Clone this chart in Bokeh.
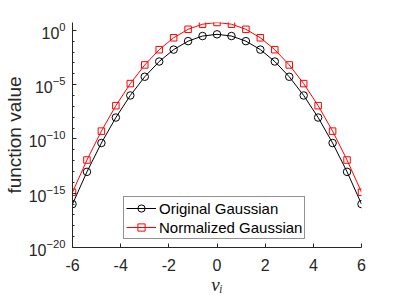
from bokeh.plotting import figure
from bokeh.models import FixedTicker, Legend, LegendItem, Range1d, CustomJSTickFormatter, LogTickFormatter
from bokeh.embed import file_html
from bokeh.resources import INLINE

# ---- data ----
x_vals = [-6.0, -5.4, -4.8, -4.2, -3.6, -3.0, -2.4, -1.8, -1.2, -0.6, 0.0,
          0.6, 1.2, 1.8, 2.4, 3.0, 3.6, 4.2, 4.8, 5.4, 6.0]
original = [9.9e-17, 9.3e-14, 4.2e-11, 9.3e-9, 1.0e-6, 5.3e-5, 1.34e-3, 1.67e-2, 0.101, 0.298, 0.427,
            0.298, 0.101, 1.67e-2, 1.34e-3, 5.3e-5, 1.0e-6, 9.3e-9, 4.2e-11, 9.3e-14, 9.9e-17]
normalized = [1.22e-15, 1.14e-12, 5.2e-10, 1.15e-7, 1.24e-5, 6.5e-4, 1.65e-2, 0.206, 1.24, 3.66, 5.25,
              3.66, 1.24, 0.206, 1.65e-2, 6.5e-4, 1.24e-5, 1.15e-7, 5.2e-10, 1.14e-12, 1.22e-15]
x_ticks = [-6, -4, -2, 0, 2, 4, 6]
y_exps = [-20, -15, -10, -5, 0]
series_names = ["Original Gaussian", "Normalized Gaussian"]

AX = "#262626"
FONT = "Liberation Sans"

p = figure(width=399, height=299, output_backend="svg", toolbar_location=None,
           y_axis_type="log", x_range=Range1d(-6, 6), y_range=Range1d(1e-20, max(normalized)),
           min_border_left=71, min_border_right=38, min_border_top=22, min_border_bottom=52)
p.outline_line_color = None
p.grid.visible = False
p.background_fill_color = "white"
p.border_fill_color = "white"

l1 = p.line(x_vals, original, line_color="black", line_width=1)
m1 = p.scatter(x_vals, original, marker="circle", size=7.5, line_color="black", fill_alpha=0, line_width=1)
l2 = p.line(x_vals, normalized, line_color="red", line_width=1)
m2 = p.scatter(x_vals, normalized, marker="square", size=6.5, line_color="red", fill_alpha=0, line_width=1)

# x axis
xa = p.xaxis[0]
xa.ticker = FixedTicker(ticks=x_ticks, minor_ticks=[])
xa.formatter = CustomJSTickFormatter(code="return tick.toString();")
xa.axis_label = "v\u1d62"
xa.axis_label_text_font = "Liberation Serif"
xa.axis_label_text_font_style = "italic"
xa.axis_label_text_font_size = "19px"
xa.axis_label_text_color = AX
xa.axis_label_standoff = 0
xa.major_label_standoff = 11

# y axis
ya = p.yaxis[0]
ya.ticker = FixedTicker(ticks=[10.0 ** e for e in y_exps],
                        minor_ticks=[10.0 ** e for e in range(-20, 1)])
ya.formatter = LogTickFormatter()
ya.axis_label = "function value"
ya.axis_label_text_font_style = "normal"
ya.axis_label_text_font_size = "19px"
ya.axis_label_text_font = FONT
ya.axis_label_text_color = AX
ya.axis_label_standoff = 1
ya.major_label_standoff = 7

for ax in (xa, ya):
    ax.axis_line_color = AX
    ax.major_tick_line_color = AX
    ax.minor_tick_line_color = AX
    ax.major_tick_in = 4
    ax.major_tick_out = 0
    ax.minor_tick_in = 2
    ax.minor_tick_out = 0
    ax.major_label_text_font = FONT
    ax.major_label_text_font_size = "16px"
    ax.major_label_text_color = AX

legend = Legend(items=[LegendItem(label=series_names[0], renderers=[l1, m1]),
                       LegendItem(label=series_names[1], renderers=[l2, m2])],
                location=(51, 8))
legend.label_text_font = FONT
legend.label_text_font_size = "15px"
legend.label_text_color = "black"
legend.border_line_color = AX
legend.border_line_width = 1
legend.background_fill_color = "white"
legend.background_fill_alpha = 1
legend.glyph_width = 30
legend.glyph_height = 18
legend.label_height = 18
legend.label_standoff = 3
legend.spacing = 1
legend.padding = 2
legend.margin = 0
p.add_layout(legend)

open("out.html", "w").write(file_html(p, INLINE))
